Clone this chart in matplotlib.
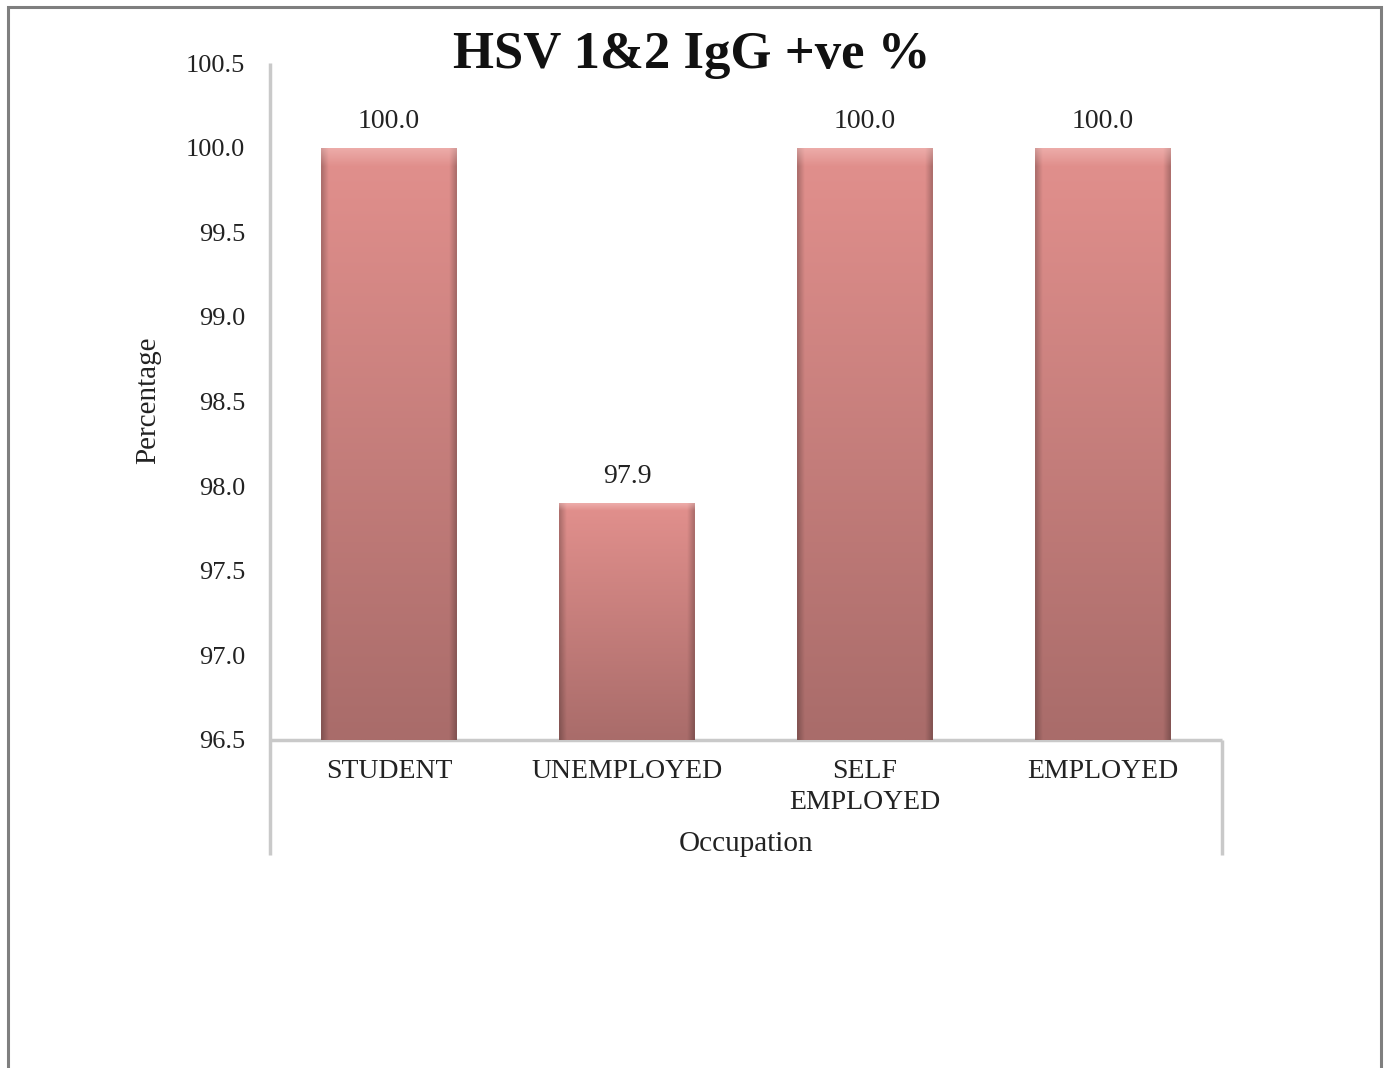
import numpy as np
import matplotlib
matplotlib.use("Agg")
import matplotlib.pyplot as plt
from matplotlib.patches import Rectangle
from matplotlib.colors import to_rgb

categories = ["STUDENT", "UNEMPLOYED", "SELF\nEMPLOYED", "EMPLOYED"]
values = [100.0, 97.9, 100.0, 100.0]
y_ticks = [96.5, 97.0, 97.5, 98.0, 98.5, 99.0, 99.5, 100.0, 100.5]

plt.rcParams["font.family"] = ["Liberation Serif", "DejaVu Serif"]

W, H = 1389, 1068
fig = plt.figure(figsize=(W / 100, H / 100), dpi=100)
fig.patch.set_facecolor("white")

# outer frame of the figure
fig.add_artist(Rectangle((8 / W, -0.05), (1381 - 8) / W, 1.05 - 7 / H,
                         transform=fig.transFigure, fill=False,
                         edgecolor="#7f7f7f", linewidth=2.2))

ax = fig.add_axes([270 / W, 1 - 740 / H, (1222 - 270) / W, (740 - 63) / H])
ymin, ymax = 96.5, 100.5
x = np.arange(len(categories))
width = 0.571

top_col = np.array(to_rgb("#e2908d"))
bot_col = np.array(to_rgb("#a96c6a"))

for xi, v in zip(x, values):
    x0, x1 = xi - width / 2, xi + width / 2
    ny, nx = 200, 60
    t = np.linspace(0, 1, ny)[:, None, None]    # 0 top -> 1 bottom
    img = top_col * (1 - t) + bot_col * t
    img = np.repeat(img, nx, axis=1)
    # darker side edges
    s = np.linspace(0, 1, nx)
    side = np.clip(np.minimum(s, 1 - s) / 0.05, 0, 1)
    img = img * (0.78 + 0.22 * side)[None, :, None]
    # lighter bevel at the top
    bevel = np.clip(1 - np.linspace(0, 1, ny) / 0.03, 0, 1)[:, None, None]
    img = img * (1 - 0.5 * bevel) + np.array([0.97, 0.78, 0.77]) * 0.5 * bevel
    rect = Rectangle((x0, ymin), width, v - ymin, facecolor="none",
                     edgecolor="none")
    ax.add_patch(rect)
    im = ax.imshow(np.clip(img, 0, 1), extent=(x0, x1, ymin, v),
                   aspect="auto", zorder=2, interpolation="bilinear")
    im.set_clip_path(rect)
    ax.text(xi, v + 0.155, f"{v:.1f}", ha="center", va="center",
            fontsize=20, color="#222222", zorder=3)

ax.set_xlim(-0.5, len(categories) - 0.5)
ax.set_ylim(ymin, ymax)

for sp in ["top", "right", "bottom", "left"]:
    ax.spines[sp].set_visible(False)

line_col = "#c9c9c9"
ext = -(855 - 740) / (740 - 63)
for xs, ys in [([0, 0], [ext, 1]), ([0, 1], [0, 0]), ([1, 1], [ext, 0])]:
    ax.plot(xs, ys, transform=ax.transAxes, color=line_col, lw=2.5,
            clip_on=False, zorder=1, solid_capstyle="butt")

ax.set_yticks(y_ticks)
ax.set_yticklabels([f"{t:.1f}" for t in y_ticks])
ax.tick_params(axis="y", length=0, pad=18, labelsize=19, labelcolor="#222222")
ax.set_xticks(x)
ax.set_xticklabels(categories, va="top", linespacing=1.27)
ax.tick_params(axis="x", length=0, pad=14, labelsize=20, labelcolor="#222222")

fig.text(148 / W, 1 - 400 / H, "Percentage", rotation=90, ha="center",
         va="center", fontsize=21, color="#222222")
fig.text(746 / W, 1 - 844 / H, "Occupation", ha="center", va="center",
         fontsize=21, color="#222222")
fig.text(692 / W, 1 - 55 / H, "HSV 1&2 IgG +ve %", ha="center", va="center",
         fontsize=38, fontweight="bold", color="#111111")

fig.savefig("out.png", dpi=100, facecolor="white")
